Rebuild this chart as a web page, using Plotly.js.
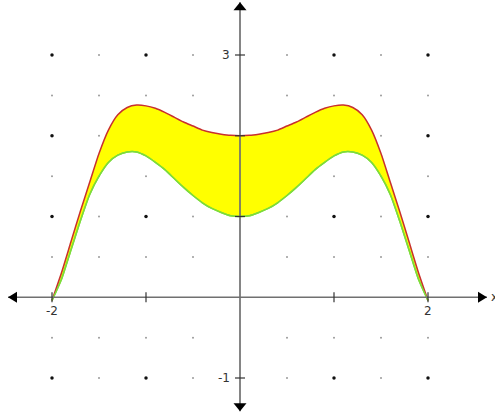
<!DOCTYPE html>
<html>
<head>
<meta charset="utf-8">
<script src="https://cdn.plot.ly/plotly-3.0.1.min.js"></script>
<style>
  html, body { margin: 0; padding: 0; background: #ffffff; }
  #chart { width: 495px; height: 414px; }
</style>
</head>
<body>
<div id="chart"></div>
<script>
// Sample positions along the x axis
const xValues = [-2.0, -1.9, -1.8, -1.7, -1.6, -1.5, -1.4, -1.3, -1.2, -1.1, -1.0,
                 -0.9, -0.8, -0.7, -0.6, -0.5, -0.4, -0.3, -0.2, -0.1, 0.0,
                 0.1, 0.2, 0.3, 0.4, 0.5, 0.6, 0.7, 0.8, 0.9, 1.0,
                 1.1, 1.2, 1.3, 1.4, 1.5, 1.6, 1.7, 1.8, 1.9, 2.0];

// Upper boundary of the shaded region
const upperCurve = [-0.04, 0.30, 0.68, 1.06, 1.42, 1.78, 2.07, 2.26, 2.35, 2.38, 2.37,
                    2.34, 2.29, 2.23, 2.17, 2.12, 2.07, 2.04, 2.02, 2.005, 2.00,
                    2.005, 2.02, 2.04, 2.07, 2.12, 2.17, 2.23, 2.29, 2.34, 2.37,
                    2.38, 2.35, 2.26, 2.07, 1.78, 1.42, 1.06, 0.68, 0.30, -0.04];

// Lower boundary of the shaded region
const lowerCurve = [-0.04, 0.22, 0.58, 0.94, 1.27, 1.50, 1.67, 1.76, 1.80, 1.80, 1.75,
                    1.67, 1.58, 1.47, 1.36, 1.26, 1.17, 1.10, 1.05, 1.01, 1.00,
                    1.01, 1.05, 1.10, 1.17, 1.26, 1.36, 1.47, 1.58, 1.67, 1.75,
                    1.80, 1.80, 1.76, 1.67, 1.50, 1.27, 0.94, 0.58, 0.22, -0.04];

// Tick marks on each axis and the ones that carry a label
const xTicks = [-2, -1, 1, 2];
const xTickLabels = ['-2', '', '', '2'];
const yTicks = [-1, 1, 2, 3];
const yTickLabels = ['-1', '', '', '3'];

// Dotted background lattice (half-unit spacing)
const gridX = [-2, -1.5, -1, -0.5, 0.5, 1, 1.5, 2];
const gridY = [-1, -0.5, 0.5, 1, 1.5, 2, 2.5, 3];

// Pixel-to-data geometry of the drawing area
const X_PER_PX = 1 / 94, Y_PER_PX = 1 / 80.75;
const xRange = [-240 * X_PER_PX, 255 * X_PER_PX];
const yRange = [-(414 - 297.25) * Y_PER_PX, 297.25 * Y_PER_PX];
const axisEnds = { left: -232 * X_PER_PX, right: 247 * X_PER_PX,
                   top: 295 * Y_PER_PX, bottom: -114 * Y_PER_PX };

const majorX = [], majorY = [], minorX = [], minorY = [];
gridX.forEach(gx => gridY.forEach(gy => {
  if (Number.isInteger(gx) && Number.isInteger(gy)) { majorX.push(gx); majorY.push(gy); }
  else { minorX.push(gx); minorY.push(gy); }
}));

const curveLine = { shape: 'spline', smoothing: 0.6, width: 1.5 };
const traces = [
  { x: minorX, y: minorY, mode: 'markers', hoverinfo: 'skip',
    marker: { size: 2, color: '#9a9a9a' } },
  { x: majorX, y: majorY, mode: 'markers', hoverinfo: 'skip',
    marker: { size: 3.5, color: '#111111' } },
  { x: xValues, y: lowerCurve, mode: 'lines',
    line: Object.assign({ color: '#7ddc3a' }, curveLine) },
  { x: xValues, y: upperCurve, mode: 'lines', fill: 'tonexty', fillcolor: '#ffff00',
    line: Object.assign({ color: '#c8302e' }, curveLine) },
  { x: xValues, y: lowerCurve, mode: 'lines', hoverinfo: 'skip',
    line: Object.assign({ color: '#7ddc3a' }, curveLine) }
];

const axisColor = '#707070';
const shapes = [
  // axis lines
  { type: 'line', layer: 'above', x0: axisEnds.left, x1: axisEnds.right, y0: 0, y1: 0,
    line: { color: axisColor, width: 1.7 } },
  { type: 'line', layer: 'above', x0: 0, x1: 0, y0: axisEnds.bottom, y1: axisEnds.top,
    line: { color: axisColor, width: 1.7 } },
  // arrow heads
  { type: 'path', layer: 'above', xsizemode: 'pixel', ysizemode: 'pixel',
    xanchor: axisEnds.right, yanchor: 0, path: 'M0,0 L-9,5.5 L-9,-5.5 Z',
    fillcolor: '#000000', line: { width: 0 } },
  { type: 'path', layer: 'above', xsizemode: 'pixel', ysizemode: 'pixel',
    xanchor: axisEnds.left, yanchor: 0, path: 'M0,0 L9,5.5 L9,-5.5 Z',
    fillcolor: '#000000', line: { width: 0 } },
  { type: 'path', layer: 'above', xsizemode: 'pixel', ysizemode: 'pixel',
    xanchor: 0, yanchor: axisEnds.top, path: 'M0,0 L-6.5,-8 L6.5,-8 Z',
    fillcolor: '#000000', line: { width: 0 } },
  { type: 'path', layer: 'above', xsizemode: 'pixel', ysizemode: 'pixel',
    xanchor: 0, yanchor: axisEnds.bottom, path: 'M0,0 L-6.5,8 L6.5,8 Z',
    fillcolor: '#000000', line: { width: 0 } }
];
xTicks.forEach(t => shapes.push({
  type: 'line', layer: 'above', ysizemode: 'pixel', yanchor: 0,
  x0: t, x1: t, y0: -5, y1: 5, line: { color: '#333333', width: 1.2 }
}));
yTicks.forEach(t => shapes.push({
  type: 'line', layer: 'above', xsizemode: 'pixel', xanchor: 0,
  y0: t, y1: t, x0: -5, x1: 5, line: { color: '#333333', width: 1.2 }
}));

const labelFont = { family: 'DejaVu Sans, sans-serif', size: 12, color: '#333333' };
const annotations = [];
xTicks.forEach((t, i) => {
  if (xTickLabels[i]) annotations.push({
    x: t, y: 0, text: xTickLabels[i], showarrow: false, font: labelFont,
    xanchor: 'center', yanchor: 'middle', yshift: -14
  });
});
yTicks.forEach((t, i) => {
  if (yTickLabels[i]) annotations.push({
    x: 0, y: t, text: yTickLabels[i], showarrow: false, font: labelFont,
    xanchor: 'right', yanchor: 'middle', xshift: -8
  });
});
annotations.push({
  xref: 'paper', yref: 'y', x: 489 / 495, y: 0, text: 'x', showarrow: false,
  font: labelFont, xanchor: 'left', yanchor: 'middle'
});

const layout = {
  width: 495, height: 414,
  margin: { l: 0, r: 0, t: 0, b: 0, pad: 0 },
  paper_bgcolor: '#ffffff', plot_bgcolor: '#ffffff',
  showlegend: false,
  xaxis: { range: xRange, visible: false, fixedrange: true },
  yaxis: { range: yRange, visible: false, fixedrange: true },
  shapes: shapes,
  annotations: annotations
};

Plotly.newPlot('chart', traces, layout, { staticPlot: true, displayModeBar: false });
</script>
</body>
</html>
